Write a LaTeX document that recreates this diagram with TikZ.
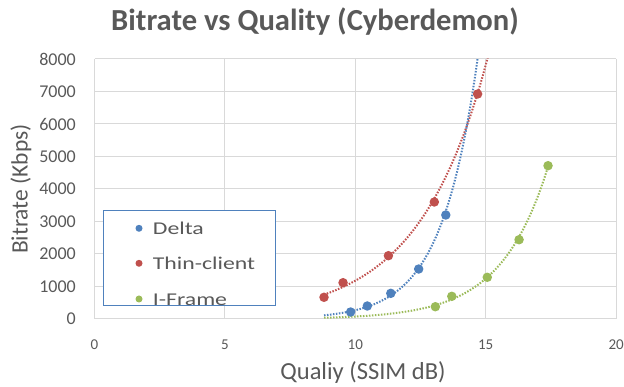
\documentclass[tikz,border=0pt]{standalone}
\usepackage{fontspec,tikz}
\usetikzlibrary{positioning}
\setmainfont{Carlito}
\newfontfamily\legendfont[FakeStretch=1.32]{Carlito}
\definecolor{txtgray}{HTML}{595959}
\definecolor{gridgray}{HTML}{D9D9D9}
\definecolor{deltablue}{HTML}{4F81BD}
\definecolor{thinred}{HTML}{C0504D}
\definecolor{framegreen}{HTML}{9BBB59}
\tikzset{
  gridline/.style={draw=gridgray,line width=1pt},
  trend/.style={line width=2pt,dash pattern=on 1.5pt off 1.5pt},
  datapt/.style={circle,fill=#1,inner sep=0pt,minimum size=9.5pt},
  legpt/.style={circle,fill=#1,inner sep=0pt,minimum size=7pt},
  legtext/.style={inner sep=0pt,text=txtgray,font=\legendfont\fontsize{18}{21.6}\selectfont},
  ticklabel/.style={inner sep=0pt,text=txtgray},
}

\begin{document}
\begin{tikzpicture}[x=1pt,y=-1pt]
\path[use as bounding box] (0,0) rectangle (624.0,387.0);
\node[anchor=base,inner sep=0pt,text=txtgray,font=\fontsize{30.6}{36.7}\selectfont \bfseries ] (title) at (315,31) {Bitrate vs Quality (Cyberdemon)};
% plot area in data units (x: SSIM dB, y: 1000 Kbps)
\begin{scope}[shift={(94.5,319)},x=26.08pt,y=32.5pt]
\foreach \yy in {0,...,8} {
  \draw[gridline] (0,\yy) -- (20,\yy);
  \pgfmathtruncatemacro\lab{\yy*1000}
  \node[ticklabel,anchor=east,font=\fontsize{18.0}{21.6}\selectfont ] (ylab\yy) at ([xshift=-18.5pt]0,\yy) {\lab};
}
\foreach \xx in {0,5,...,20} {
  \draw[gridline] (\xx,0) -- (\xx,8);
  \node[ticklabel,anchor=north,font=\fontsize{15.0}{18.0}\selectfont ] (xlab\xx) at ([yshift=-20.5pt]\xx,0) {\xx};
}
\begin{scope}
\clip (0,0) rectangle (20,8);
\draw[trend,thinred] plot[domain=8.8:15.1,samples=80,smooth] (\x,{exp(0.718+0.3783*(\x-11.464))});
\draw[trend,deltablue] plot[domain=8.8:14.72,samples=80,smooth] (\x,{exp(-0.219+0.723*(\x-11.508))});
\draw[trend,framegreen] plot[domain=8.8:17.39,samples=80,smooth] (\x,{exp(0.272+0.556*(\x-15.1))});
\end{scope}
\foreach \px/\py in {8.80/0.668,9.53/1.117,11.27/1.948,13.03/3.600,14.69/6.923}
  \node[datapt=thinred] at (\px,\py) {};
\foreach \px/\py in {9.82/0.215,10.46/0.400,11.36/0.790,12.43/1.538,13.47/3.200}
  \node[datapt=deltablue] at (\px,\py) {};
\foreach \px/\py in {13.07/0.378,13.70/0.698,15.06/1.283,16.28/2.440,17.39/4.717}
  \node[datapt=framegreen] at (\px,\py) {};
\end{scope}
% axis titles
\node[inner sep=0pt,text=txtgray,rotate=90,font=\fontsize{23.5}{28.2}\selectfont ] (ytitle) at (21,189) {Bitrate (Kbps)};
\node[anchor=base,inner sep=0pt,text=txtgray,font=\fontsize{24.5}{29.4}\selectfont ] (xtitle) at (363,380) {Qualiy (SSIM dB)};
% legend
\draw[fill=white,draw=deltablue,line width=1pt] (103.3,210.7) rectangle (275.7,306.0);
\node[legpt=deltablue] (mk1) at (139,228.3) {};
\node[legpt=thinred] (mk2) at (139,263.3) {};
\node[legpt=framegreen] (mk3) at (139,299.0) {};
\node[legtext,anchor=base west] (leg1) at ([xshift=10pt,yshift=-6.7pt]mk1.east) {Delta};
\node[legtext,anchor=base west] (leg2) at ([xshift=10pt,yshift=-6.7pt]mk2.east) {Thin-client};
\node[legtext,anchor=base west] (leg3) at ([xshift=10pt,yshift=-6.7pt]mk3.east) {I-Frame};
\end{tikzpicture}
\end{document}
